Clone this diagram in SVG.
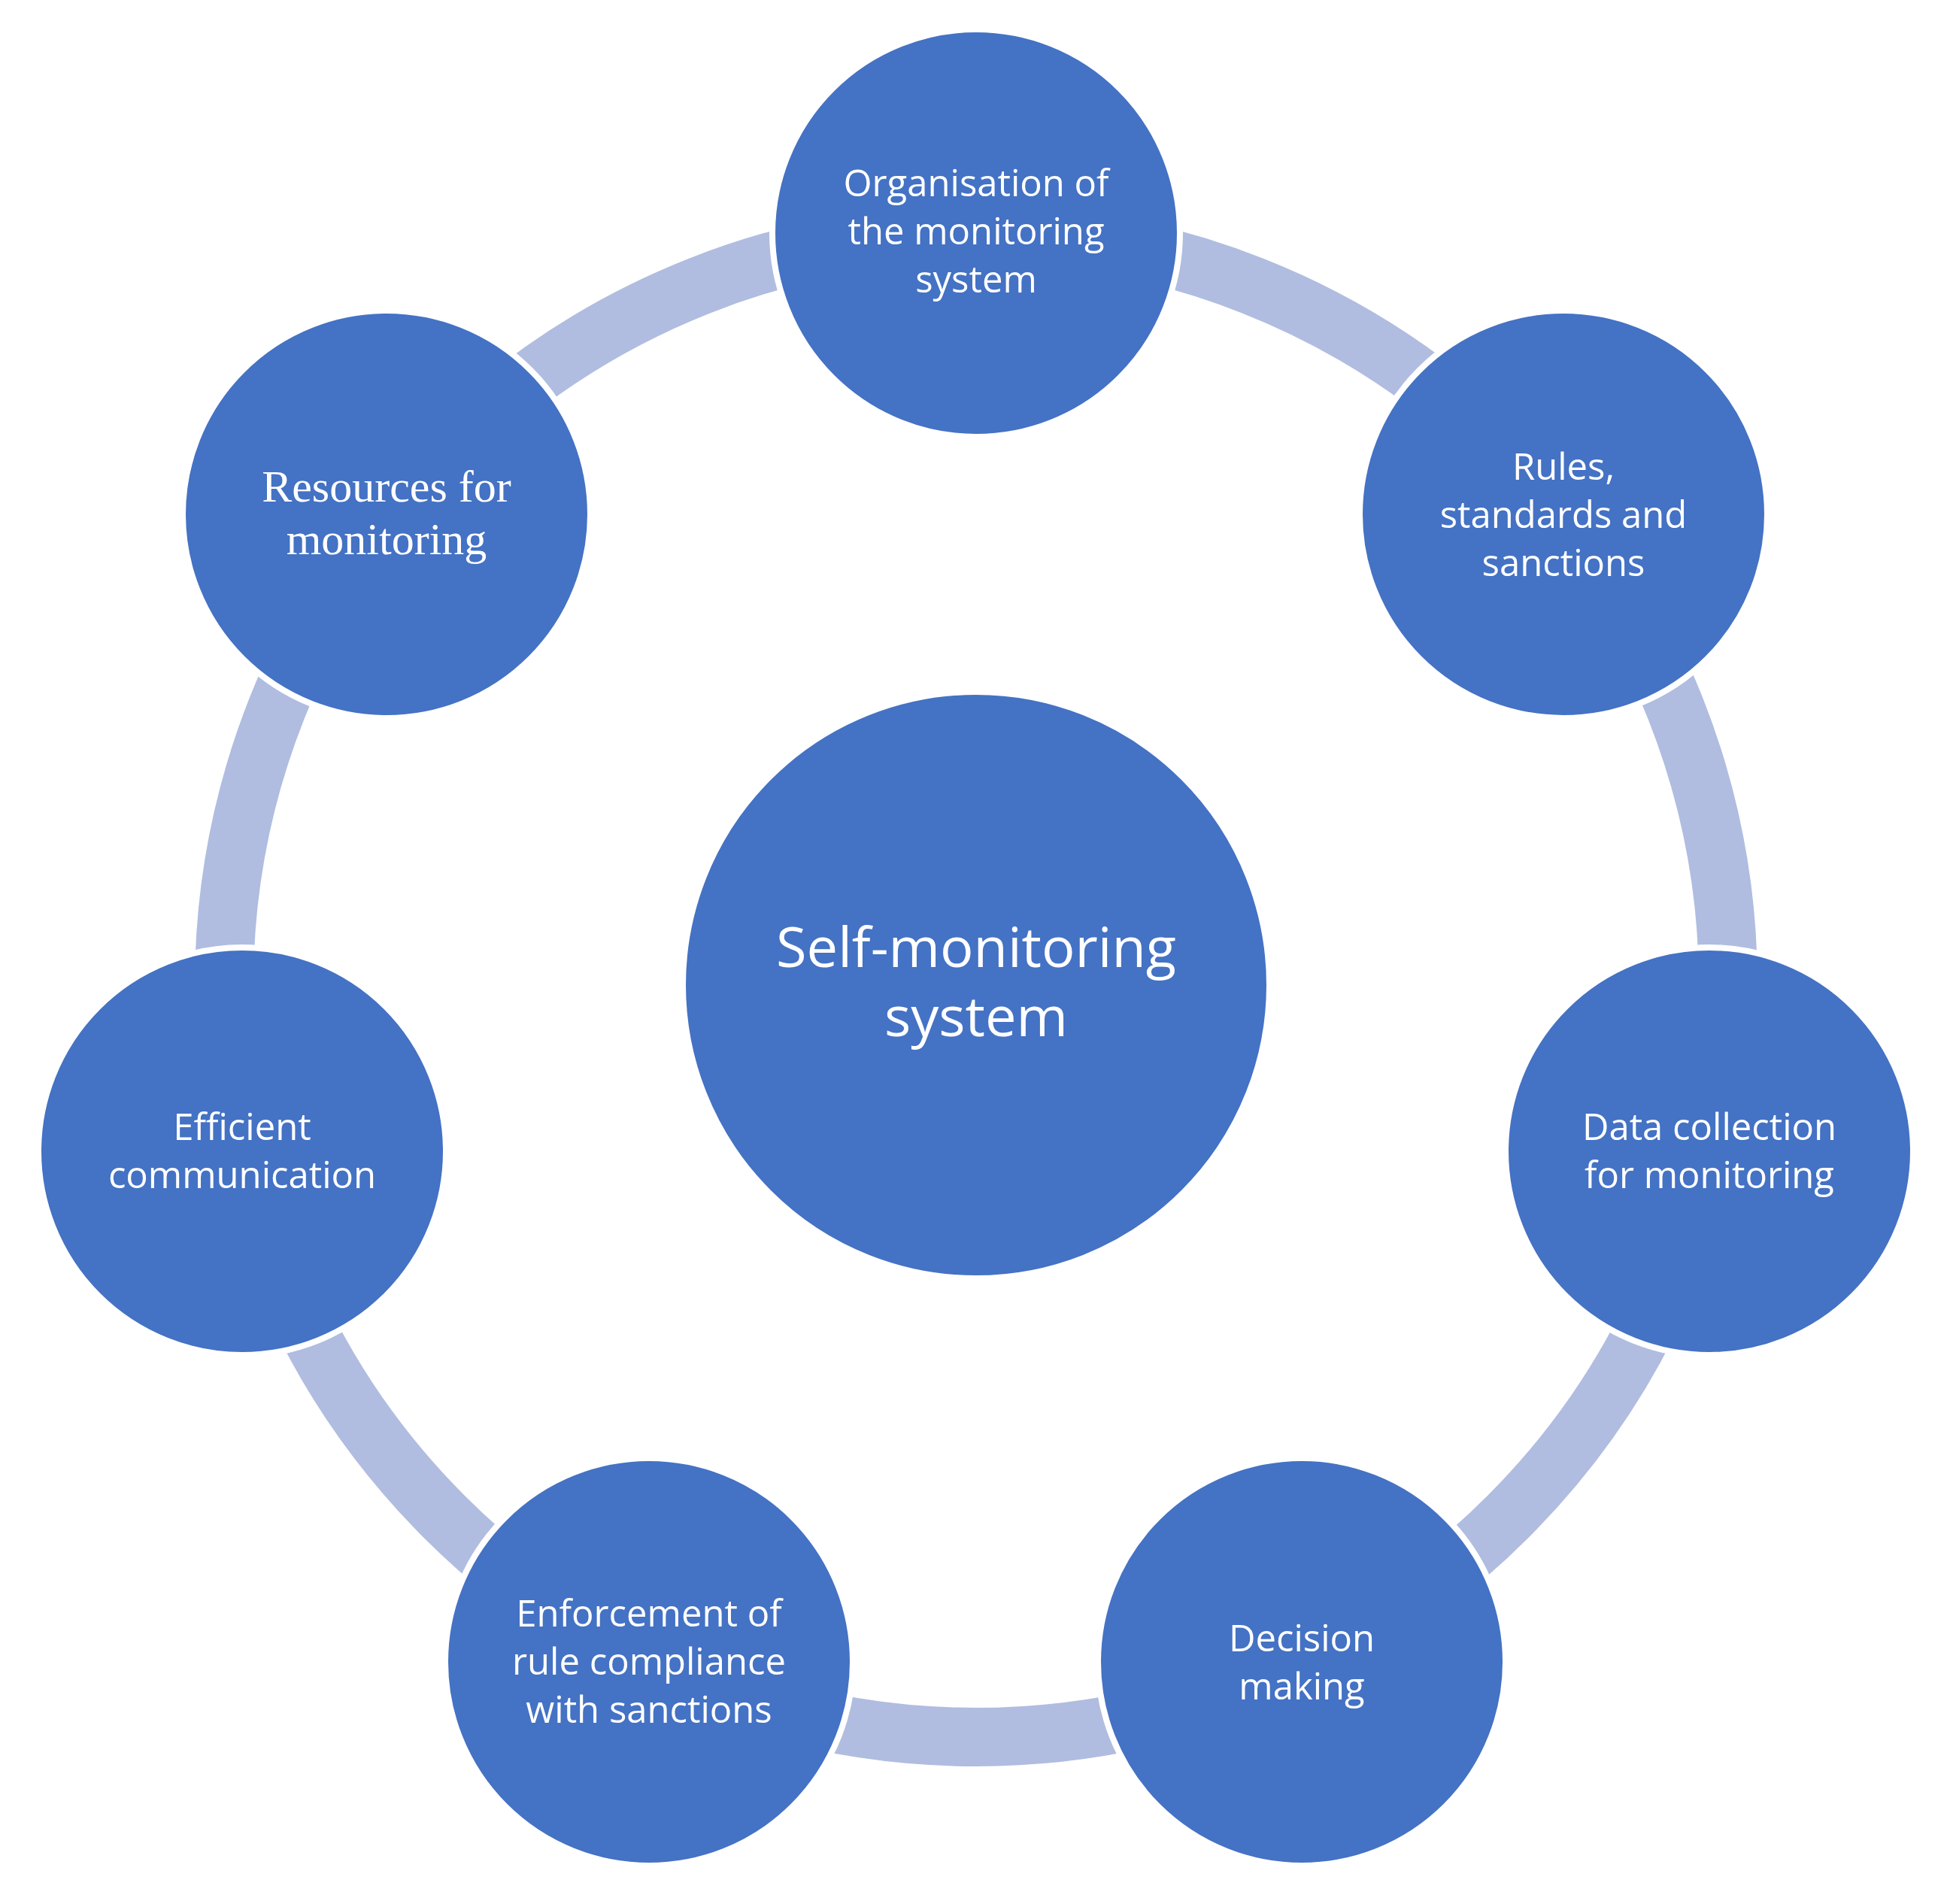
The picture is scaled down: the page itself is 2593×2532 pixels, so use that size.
<svg xmlns="http://www.w3.org/2000/svg" width="2593" height="2532" viewBox="0 0 2593 2532">
<style>
.n{fill:#4472C4;stroke:#fff;stroke-width:8}
.t{font-family:"Open Sans","Liberation Sans",sans-serif;font-size:49px;fill:#fff;text-anchor:middle}
.s{font-family:"Liberation Serif",serif;font-size:60px;fill:#fff;text-anchor:middle}
.c{font-family:"Open Sans","Liberation Sans",sans-serif;font-size:74px;fill:#fff;text-anchor:middle}
</style>
<rect width="2593" height="2532" fill="#fff"/>
<g id="connectors"><circle cx="1298" cy="1310" r="1000" fill="none" stroke="#B0BDE0" stroke-width="78"/></g>
<g id="center"><circle class="n" cx="1298" cy="1310" r="390"/><text class="c" x="1298" y="1286">Self-monitoring</text><text class="c" x="1298" y="1378">system</text></g>
<g id="organisation"><circle class="n" cx="1298" cy="310" r="271"/><text class="t" x="1298" y="261">Organisation of</text><text class="t" x="1298" y="325">the monitoring</text><text class="t" x="1298" y="389">system</text></g>
<g id="rules"><circle class="n" cx="2079" cy="684" r="271"/><text class="t" x="2079" y="638">Rules,</text><text class="t" x="2079" y="702">standards and</text><text class="t" x="2079" y="766">sanctions</text></g>
<g id="data"><circle class="n" cx="2273" cy="1531" r="271"/><text class="t" x="2273" y="1516">Data collection</text><text class="t" x="2273" y="1580">for monitoring</text></g>
<g id="decision"><circle class="n" cx="1731" cy="2210" r="271"/><text class="t" x="1731" y="2196">Decision</text><text class="t" x="1731" y="2260">making</text></g>
<g id="enforcement"><circle class="n" cx="863" cy="2210" r="271"/><text class="t" x="863" y="2163">Enforcement of</text><text class="t" x="863" y="2227">rule compliance</text><text class="t" x="863" y="2291">with sanctions</text></g>
<g id="efficient"><circle class="n" cx="322" cy="1531" r="271"/><text class="t" x="322" y="1516">Efficient</text><text class="t" x="322" y="1580">communication</text></g>
<g id="resources"><circle class="n" cx="514" cy="684" r="271"/><text class="s" x="514" y="667">Resources for</text><text class="s" x="514" y="737">monitoring</text></g>
</svg>
